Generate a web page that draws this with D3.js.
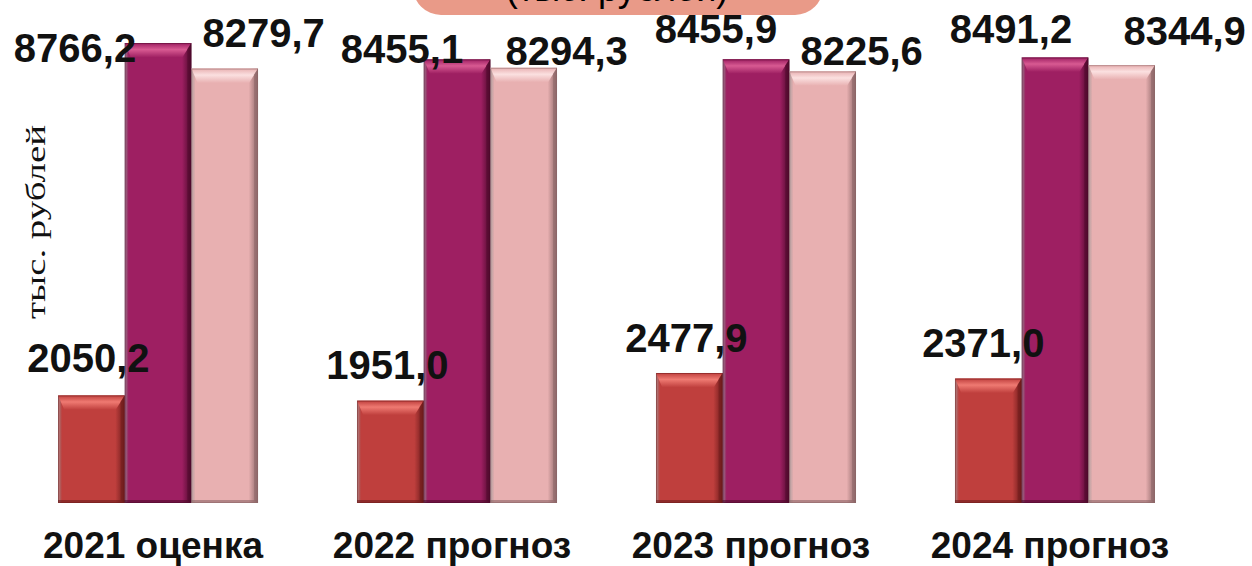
<!DOCTYPE html>
<html>
<head>
<meta charset="utf-8">
<script src="https://cdn.jsdelivr.net/npm/d3@7"></script>
<style>
  html, body { margin: 0; padding: 0; background: #ffffff; }
  svg { display: block; }
</style>
</head>
<body>
<script>
// ---- data ----
const categories = ["2021 оценка", "2022 прогноз", "2023 прогноз", "2024 прогноз"];
const seriesNames = ["s1", "s2", "s3"];
const series1 = [2050.2, 1951.0, 2477.9, 2371.0];
const series2 = [8766.2, 8455.1, 8455.9, 8491.2];
const series3 = [8279.7, 8294.3, 8225.6, 8344.9];
const axisTitle = "тыс. рублей";
const bannerText = "(тыс. рублей)";

// ---- styling (not data) ----
const W = 1252, H = 566;
const palette = [
  { body: "#bf3f3d", light: "#ef7a72", dark: "#6e1c1c" },
  { body: "#9e1f62", light: "#d85a92", dark: "#4e0a2c" },
  { body: "#e8b0b1", light: "#fbe0e0", dark: "#8c6667" }
];
// manual label nudges (dx, dy) relative to bar top-centre, per series
const labelDx = [[-3, -3, -3, -5], [-83, -55, -40, -44], [39, 43, 39, 63]];
const labelDy = [[-23, -22, -21, -22], [19, 4, -16, -14], [-22, -3, -6, -20]];

const values = [series1, series2, series3];

const svg = d3.select("body").append("svg").attr("width", W).attr("height", H);
const defs = svg.append("defs");

palette.forEach((p, i) => {
  const g = defs.append("linearGradient").attr("id", "side" + i)
    .attr("x1", "0").attr("x2", "1").attr("y1", "0").attr("y2", "0");
  g.append("stop").attr("offset", "0").attr("stop-color", p.dark).attr("stop-opacity", 0.5);
  g.append("stop").attr("offset", "0.06").attr("stop-color", p.body);
  g.append("stop").attr("offset", "0.5").attr("stop-color", p.body);
  g.append("stop").attr("offset", "0.86").attr("stop-color", p.body);
  g.append("stop").attr("offset", "1").attr("stop-color", p.dark);
  const t = defs.append("linearGradient").attr("id", "top" + i)
    .attr("x1", "0").attr("x2", "0").attr("y1", "0").attr("y2", "1");
  t.append("stop").attr("offset", "0").attr("stop-color", p.body);
  t.append("stop").attr("offset", "0.45").attr("stop-color", p.light);
  t.append("stop").attr("offset", "1").attr("stop-color", p.body);
});

const x0 = d3.scaleBand().domain(categories).range([58, 1155]).paddingInner(0.331).paddingOuter(0);
const x1 = d3.scaleBand().domain(seriesNames).range([0, x0.bandwidth()]).padding(0);
const y = d3.scaleLinear().domain([0, 9000]).range([503, 30.8]);

// banner at top (cut off by the top edge, as in the source)
svg.append("rect").attr("x", 413).attr("y", -45).attr("width", 410).attr("height", 60)
  .attr("rx", 28).attr("fill", "#e99a88");
svg.append("text").attr("x", 617).attr("y", 1).attr("text-anchor", "middle")
  .attr("font-family", "Liberation Sans, Arial, sans-serif").attr("font-size", 36)
  .attr("fill", "#000").text(bannerText);

// bars
const bevel = 9;
seriesNames.forEach((s, si) => {
  const g = svg.append("g");
  categories.forEach((c, ci) => {
    const v = values[si][ci];
    const bx = x0(c) + x1(s);
    const bw = x1.bandwidth();
    const top = y(v);
    const bottom = y(0);
    g.append("rect").attr("x", bx).attr("y", top).attr("width", bw).attr("height", bottom - top)
      .attr("fill", `url(#side${si})`);
    g.append("path")
      .attr("d", `M${bx},${top} L${bx + bw},${top} L${bx + bw - bevel},${top + bevel * 1.6} L${bx + bevel * 0.7},${top + bevel * 1.6} Z`)
      .attr("fill", `url(#top${si})`);
    g.append("path")
      .attr("d", `M${bx + bw},${top} L${bx + bw},${bottom} L${bx + bw - 4},${bottom - 3} L${bx + bw - 4},${top + 6} Z`)
      .attr("fill", palette[si].dark).attr("opacity", 0.55);
    g.append("rect").attr("x", bx).attr("y", bottom - 3).attr("width", bw).attr("height", 3)
      .attr("fill", palette[si].dark).attr("opacity", 0.6);
    g.append("rect").attr("x", bx + 0.5).attr("y", top + 0.5).attr("width", bw - 1).attr("height", bottom - top - 1)
      .attr("fill", "none").attr("stroke", palette[si].dark).attr("stroke-opacity", 0.5).attr("stroke-width", 1);
  });
});

// value labels
const fmt = v => d3.format(".1f")(v).replace(".", ",");
seriesNames.forEach((s, si) => {
  categories.forEach((c, ci) => {
    const v = values[si][ci];
    const cx = x0(c) + x1(s) + x1.bandwidth() / 2;
    svg.append("text")
      .attr("x", cx + labelDx[si][ci]).attr("y", y(v) + labelDy[si][ci])
      .attr("text-anchor", "middle")
      .attr("font-family", "Liberation Sans, Arial, sans-serif")
      .attr("font-weight", "bold").attr("font-size", 40)
      .attr("fill", "#111").text(fmt(v));
  });
});

// category axis labels
const xAxis = d3.axisBottom(x0).tickSize(0).tickPadding(0);
const ax = svg.append("g").attr("transform", "translate(-5,0)").call(xAxis);
ax.select(".domain").remove();
ax.selectAll("text")
  .attr("y", 558).attr("dy", null)
  .attr("font-family", "Liberation Sans, Arial, sans-serif")
  .attr("font-weight", "bold").attr("font-size", 37).attr("fill", "#111");

// y axis title
svg.append("text")
  .attr("transform", "translate(45,222) rotate(-90)")
  .attr("text-anchor", "middle")
  .attr("font-family", "Liberation Serif, Times New Roman, serif")
  .attr("font-size", 28).attr("fill", "#111")
  .attr("textLength", 194).attr("lengthAdjust", "spacingAndGlyphs")
  .text(axisTitle);
</script>
</body>
</html>
